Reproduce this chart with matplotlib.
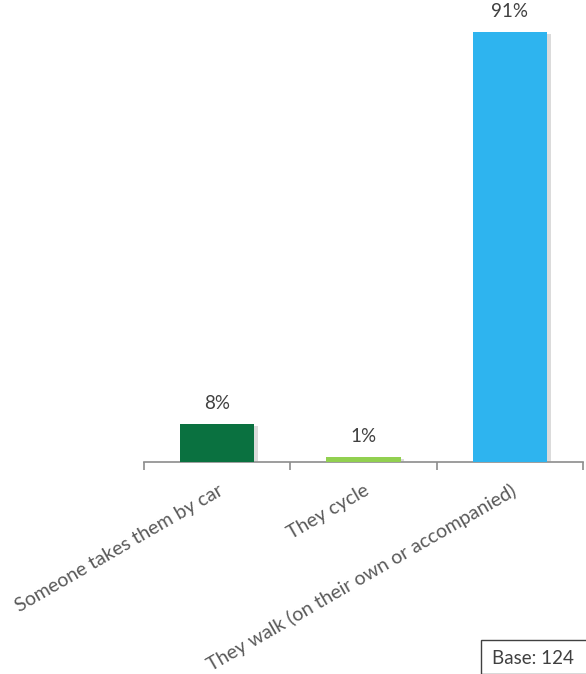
import numpy as np
import matplotlib.pyplot as plt
import matplotlib.patheffects as pe
from matplotlib.patches import Rectangle

categories = ['Someone takes them by car', 'They cycle', 'They walk (on their own or accompanied)']
values = [8, 1, 91]
colors = ['#0A7140', '#92D050', '#2EB4EF']

plt.rcParams['font.family'] = ['Lato', 'DejaVu Sans']

fig = plt.figure(figsize=(5.86, 6.74), dpi=100)
ax = fig.add_axes([144/586, 1 - 462/674, (583-144)/586, 462/674])

x = np.arange(len(categories))
shadow = [pe.SimplePatchShadow(offset=(2.5, -1.5), shadow_rgbFace='#999999', alpha=0.35), pe.Normal()]
bars = ax.bar(x, values, width=0.51, color=colors, path_effects=shadow, zorder=3)

for xi, v in zip(x, values):
    ax.annotate(f'{v}%', (xi, v), xytext=(0, 9), textcoords='offset points',
                ha='center', va='bottom', fontsize=13.5, color='#404040')

ax.set_xlim(-0.5, len(categories) - 0.5)
ax.set_ylim(0, 97.8)
ax.set_yticks([])
for s in ['top', 'right', 'left']:
    ax.spines[s].set_visible(False)
ax.spines['bottom'].set_color('#8C8C8C')
ax.spines['bottom'].set_linewidth(1.2)

ax.set_xticks(x)
ax.set_xticklabels(categories, rotation=30, ha='right', rotation_mode='anchor',
                   fontsize=14, color='#595959')
ax.tick_params(axis='x', which='major', length=0, pad=14)
ax.set_xticks(np.arange(len(categories) + 1) - 0.5, minor=True)
ax.tick_params(axis='x', which='minor', length=6, color='#8C8C8C', width=1.2)

fig.patches.append(Rectangle((481/586, 0), 0.2, (674-640)/674, transform=fig.transFigure,
                             fc='white', ec='#404040', lw=1))
fig.text(492/586, 1 - 659/674, 'Base: 124', fontsize=13.5, color='#404040',
         va='center', ha='left')

fig.savefig('out.png', dpi=100)
